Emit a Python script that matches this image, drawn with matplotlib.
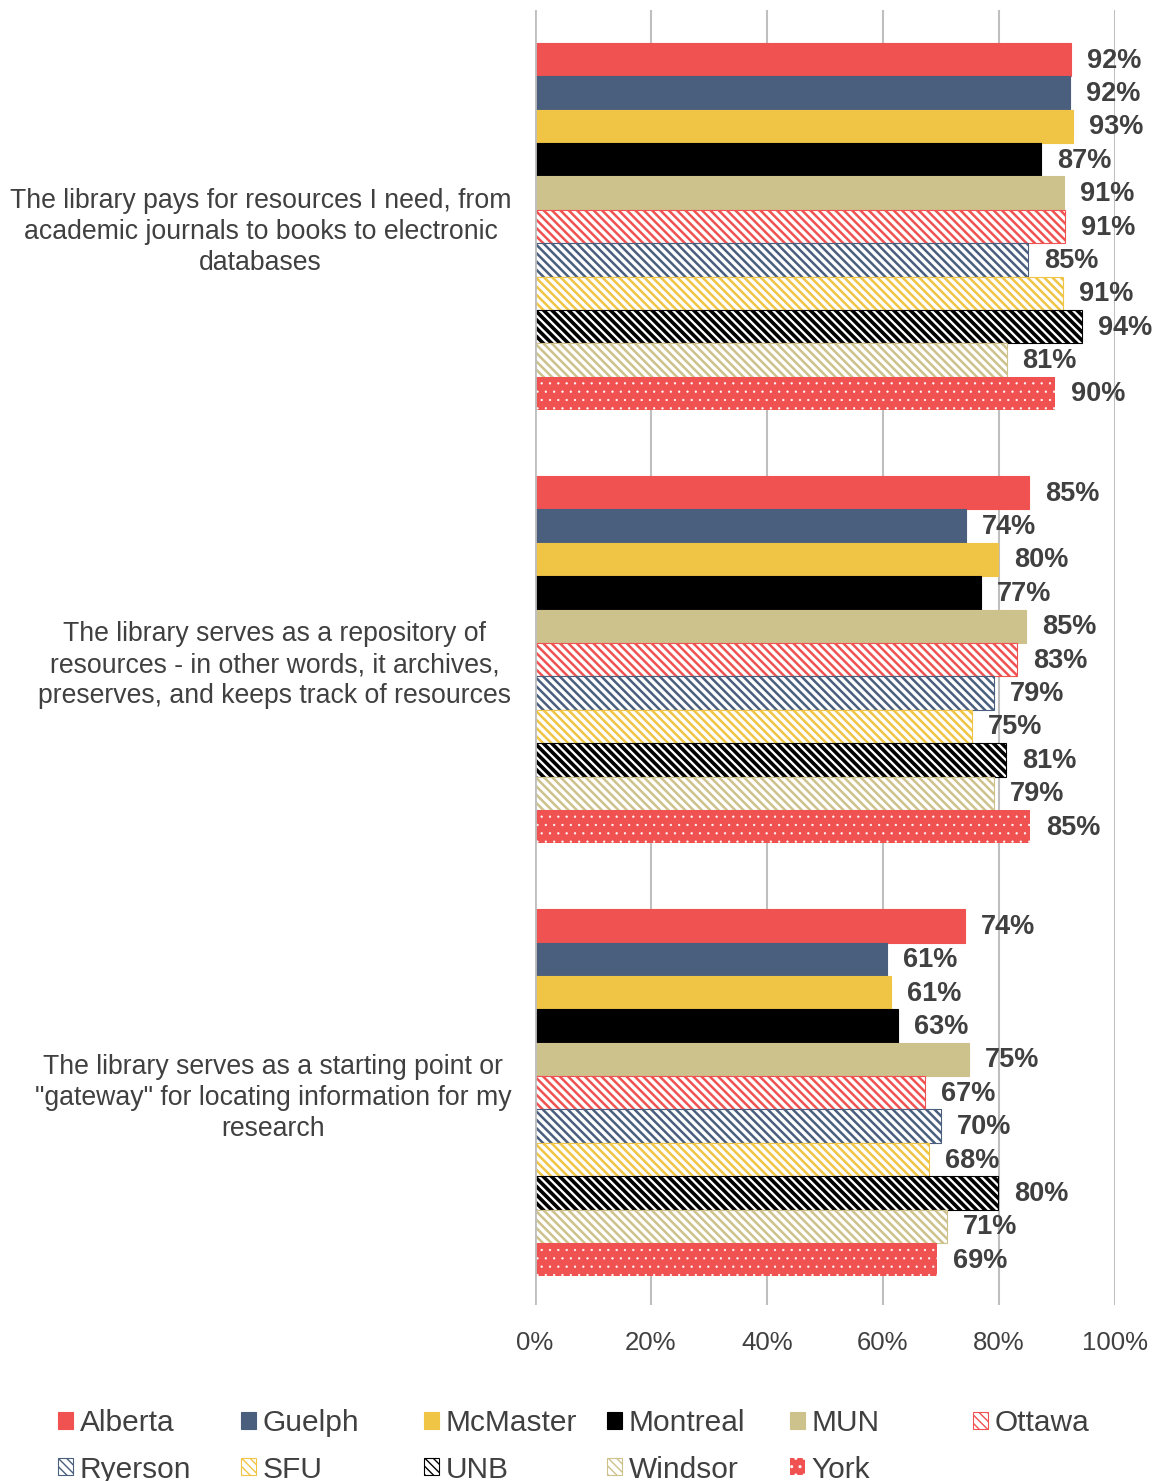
import matplotlib
matplotlib.use("Agg")
import matplotlib.pyplot as plt
from matplotlib.patches import Patch

plt.rcParams['font.family'] = ['Liberation Sans', 'DejaVu Sans']

categories = [
    "The library pays for resources I need, from\nacademic journals to books to electronic\ndatabases",
    "The library serves as a repository of\nresources - in other words, it archives,\npreserves, and keeps track of resources",
    "The library serves as a starting point or\n\"gateway\" for locating information for my\nresearch",
]
universities = ["Alberta", "Guelph", "McMaster", "Montreal", "MUN", "Ottawa",
                "Ryerson", "SFU", "UNB", "Windsor", "York"]
# values per university, in order of categories (top to bottom)
alberta = [92.4, 85.2, 74.1]
guelph = [92.3, 74.3, 60.7]
mcmaster = [92.7, 79.8, 61.4]
montreal = [87.2, 76.9, 62.6]
mun = [91.2, 84.6, 74.8]
ottawa = [91.4, 83.1, 67.2]
ryerson = [85.0, 79.1, 70.0]
sfu = [91.0, 75.3, 67.9]
unb = [94.3, 81.2, 79.8]
windsor = [81.3, 79.1, 71.0]
york = [89.6, 85.4, 69.3]
series = [alberta, guelph, mcmaster, montreal, mun, ottawa, ryerson, sfu, unb, windsor, york]
xticks = [0, 20, 40, 60, 80, 100]

RED = '#f05252'
BLUE = '#4a5f7e'
YELLOW = '#f0c545'
BLACK = '#000000'
TAN = '#cdc18c'
styles = [
    dict(face=RED, edge=RED, hatch=None, hlw=1.0),
    dict(face=BLUE, edge=BLUE, hatch=None, hlw=1.0),
    dict(face=YELLOW, edge=YELLOW, hatch=None, hlw=1.0),
    dict(face=BLACK, edge=BLACK, hatch=None, hlw=1.0),
    dict(face=TAN, edge=TAN, hatch=None, hlw=1.0),
    dict(face='white', edge=RED, hatch='\\\\\\\\', hlw=1.8),
    dict(face='white', edge=BLUE, hatch='\\\\\\\\', hlw=1.8),
    dict(face='white', edge=YELLOW, hatch='\\\\\\\\', hlw=1.8),
    dict(face='white', edge=BLACK, hatch='\\\\\\\\', hlw=2.6),
    dict(face='white', edge=TAN, hatch='\\\\\\\\', hlw=1.8),
    dict(face=RED, edge='white', hatch='..', hlw=0.4, nolw=True),
]

TXT = '#404040'
fig = plt.figure(figsize=(11.58, 14.81), dpi=100)
ax = fig.add_axes([535/1158, 1-1305/1481, 580/1158, 1295/1481])

n = len(universities)
group_w = 0.848
bh = group_w / n
ncat = len(categories)
ypos = [ncat - 1 - i for i in range(ncat)]  # top category at top

handles = []
for k, (name, vals, st) in enumerate(zip(universities, series, styles)):
    offs = group_w / 2 - bh * (k + 0.5)
    ys = [y + offs for y in ypos]
    with plt.rc_context({'hatch.linewidth': st['hlw']}):
        lw = 0 if st.get('nolw') else 0.8
        ax.barh(ys, vals, height=bh, color=st['face'], edgecolor=st['edge'],
                hatch=st['hatch'], linewidth=lw, zorder=3)
    with plt.rc_context({'hatch.linewidth': min(st['hlw'], 1.5)}):
        h = Patch(facecolor=st['face'], edgecolor=st['edge'], hatch=st['hatch'],
                  linewidth=lw, label=name)
    handles.append(h)
    for y, v in zip(ys, vals):
        ax.annotate(f"{round(v)}%", (v, y), xytext=(16, -1), textcoords='offset pixels',
                    ha='left', va='center', fontsize=19.5, fontweight='bold', color=TXT, zorder=4)

ax.set_xlim(0, 100)
ax.set_ylim(-0.49, 2.5)
ax.set_xticks(xticks)
ax.set_xticklabels([f"{t}%" for t in xticks], fontsize=18.5, color=TXT)
ax.set_yticks(ypos)
ax.set_yticklabels(categories, fontsize=19.2, color=TXT, multialignment='center', linespacing=1.25)
ax.tick_params(axis='y', length=0, pad=17)
ax.tick_params(axis='x', length=0, pad=19)
ax.grid(axis='x', color='#bfbfbf', linewidth=1.5, zorder=0)
for s in ['top', 'right', 'bottom', 'left']:
    ax.spines[s].set_visible(False)
ax.axvline(0, color='#bfbfbf', linewidth=2, zorder=5)

# Legend: two rows of six evenly spaced columns
col_x = [58, 241, 424, 607, 790, 973]
ncols = 6
for j in range(ncols):
    idx = [i for i in (j, j + ncols) if i < n]
    leg = fig.legend([handles[i] for i in idx], [universities[i] for i in idx],
                     loc='upper left', bbox_to_anchor=(col_x[j]/1158, 1-1409/1481),
                     frameon=False, fontsize=21.5, handlelength=0.5, handleheight=0.5,
                     handletextpad=0.22, labelspacing=0.62, borderpad=0, borderaxespad=0)
    for t in leg.get_texts():
        t.set_color(TXT)

fig.savefig('out.png', dpi=100)
